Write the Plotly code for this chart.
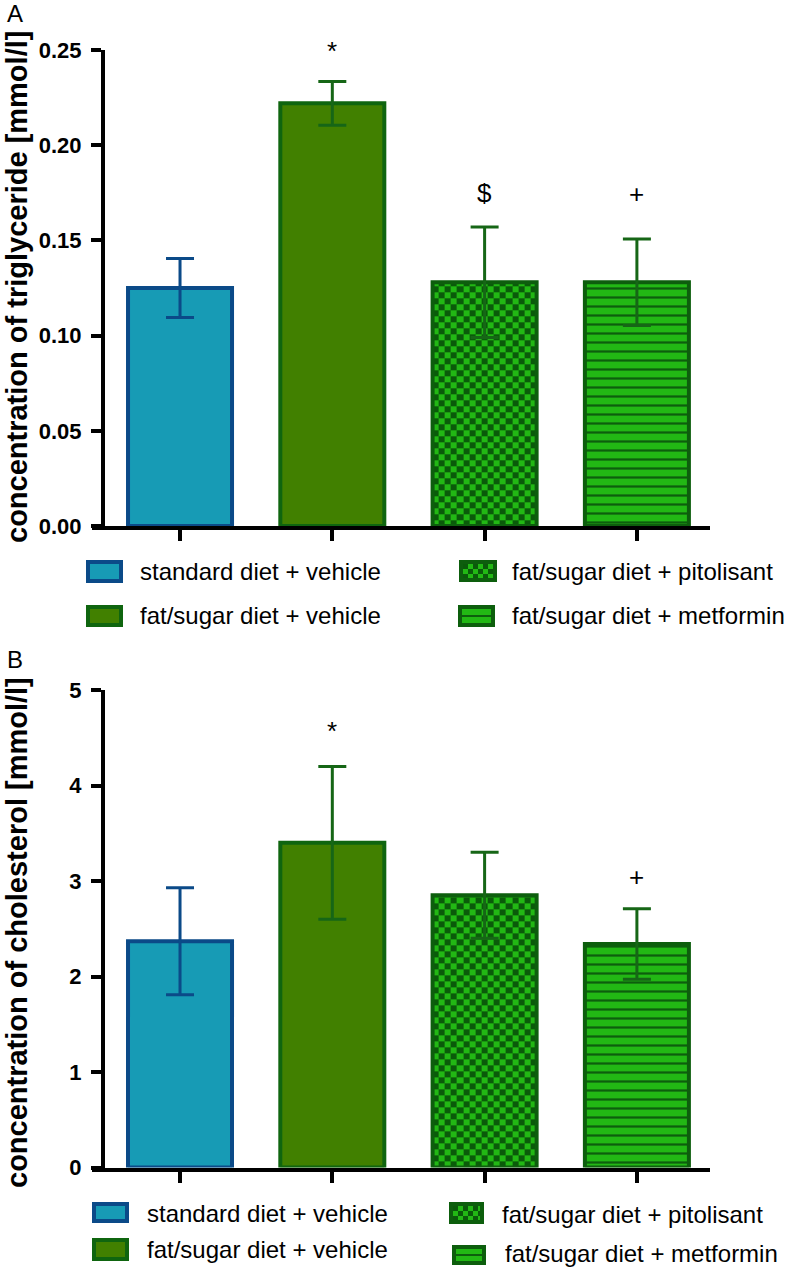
import plotly.graph_objects as go

# ---------------- data ----------------
groups = ["standard diet + vehicle", "fat/sugar diet + vehicle",
          "fat/sugar diet + pitolisant", "fat/sugar diet + metformin"]

tg_mean = [0.125, 0.222, 0.128, 0.128]
tg_err = [0.0155, 0.0115, 0.029, 0.0227]
tg_sig = ["", "*", "$", "+"]

chol_mean = [2.37, 3.40, 2.85, 2.34]
chol_err = [0.56, 0.80, 0.45, 0.37]
chol_sig = ["", "*", "", "+"]

tg_tickvals = [0, 0.05, 0.10, 0.15, 0.20, 0.25]
tg_ticktext = ["0.00", "0.05", "0.10", "0.15", "0.20", "0.25"]
chol_tickvals = [0, 1, 2, 3, 4, 5]
chol_ticktext = ["0", "1", "2", "3", "4", "5"]

# ---------------- style ----------------
W, H = 788, 1270
FONT = "Liberation Sans, Arial, Helvetica, sans-serif"
BLUE, BLUE_D = "#179bb5", "#0b4a88"
OLIVE, GREEN_D = "#418000", "#0f650f"
BRIGHT, DARK = "#22b814", "#0a5a0a"
STRIPE_D = "#0d5e0d"
ERRG = "#166616"

fills = [BLUE, OLIVE, "rgba(0,0,0,0)", BRIGHT]
swatch_fills = [BLUE, OLIVE, BRIGHT, BRIGHT]
borders = [BLUE_D, GREEN_D, STRIPE_D, STRIPE_D]
errcols = [BLUE_D, ERRG, ERRG, ERRG]
patterns = [
    None,
    None,
    None,  # checkerboard drawn as a heatmap texture below the bar
    dict(shape="-", size=9, solidity=0.25, fgcolor=STRIPE_D, bgcolor=BRIGHT, fillmode="replace"),
]
CHECKER_BAR = 2
BAR_W = 0.683
X_RANGE = [-0.578, 3.48]
CELL_PX = 6.0


def px(x):
    return x / W


def py(y):
    return 1 - y / H


X_DOM = [px(92), px(710)]
panels = [
    dict(xa="x", ya="y", mean=tg_mean, err=tg_err, sig=tg_sig,
         sig_shift=[0, 30, 34, 45], ydom=[py(526), py(50)], yrange=[0, 0.25]),
    dict(xa="x2", ya="y2", mean=chol_mean, err=chol_err, sig=chol_sig,
         sig_shift=[0, 35, 0, 32], ydom=[py(1167.5), py(690)], yrange=[0, 5]),
]

fig = go.Figure()
annotations = []
xpx_per_unit = (X_DOM[1] - X_DOM[0]) * W / (X_RANGE[1] - X_RANGE[0])

for p in panels:
    ypx_per_unit = (p["ydom"][1] - p["ydom"][0]) * H / (p["yrange"][1] - p["yrange"][0])
    # checkerboard texture for the pitolisant bar
    i = CHECKER_BAR
    nx = max(1, round(BAR_W * xpx_per_unit / CELL_PX))
    xe = [i - BAR_W / 2 + BAR_W * k / nx for k in range(nx + 1)]
    dy = CELL_PX / ypx_per_unit
    ye = []
    v = 0.0
    while v < p["mean"][i] - 1e-9:
        ye.append(v)
        v += dy
    ye.append(p["mean"][i])
    z = [[(r + c) % 2 for c in range(nx)] for r in range(len(ye) - 1)]
    fig.add_trace(go.Heatmap(x=xe, y=ye, z=z, zmin=0, zmax=1,
                             colorscale=[[0, BRIGHT], [1, DARK]], showscale=False,
                             hoverinfo="skip", xaxis=p["xa"], yaxis=p["ya"]))

    for i, g in enumerate(groups):
        marker = dict(color=fills[i], line=dict(color=borders[i], width=4))
        if patterns[i] is not None:
            marker["pattern"] = patterns[i]
        fig.add_trace(go.Bar(
            x=[i], y=[p["mean"][i]], width=BAR_W, marker=marker,
            error_y=dict(type="data", array=[p["err"][i]], color=errcols[i],
                         thickness=3, width=14),
            xaxis=p["xa"], yaxis=p["ya"], showlegend=False, name=g,
        ))
        if p["sig"][i]:
            annotations.append(dict(
                x=i, y=p["mean"][i] + p["err"][i], xref=p["xa"], yref=p["ya"],
                text=p["sig"][i], showarrow=False, yshift=p["sig_shift"][i],
                font=dict(family=FONT, size=26, color="black"),
            ))

axis_common = dict(showline=True, linewidth=4, linecolor="black", ticks="outside",
                   tickwidth=4, tickcolor="black", showgrid=False, zeroline=False,
                   automargin=False)
xaxis_common = dict(domain=X_DOM, type="linear", range=X_RANGE,
                    tickvals=list(range(len(groups))), showticklabels=False,
                    ticklen=11, **axis_common)
ytickfont = dict(family=FONT, size=22, color="black", weight="bold")

fig.update_layout(
    template="none",
    width=W, height=H, autosize=False,
    margin=dict(l=0, r=0, t=0, b=0, pad=0, autoexpand=False),
    paper_bgcolor="white", plot_bgcolor="white", barmode="overlay",
    xaxis=dict(anchor="y", **xaxis_common),
    yaxis=dict(domain=panels[0]["ydom"], anchor="free", position=px(103),
               range=panels[0]["yrange"], tickvals=tg_tickvals, ticktext=tg_ticktext,
               ticklen=10, ticklabelstandoff=5, tickfont=ytickfont, **axis_common),
    xaxis2=dict(anchor="y2", **xaxis_common),
    yaxis2=dict(domain=panels[1]["ydom"], anchor="free", position=px(103),
                range=panels[1]["yrange"], tickvals=chol_tickvals, ticktext=chol_ticktext,
                ticklen=10, ticklabelstandoff=5, tickfont=ytickfont, **axis_common),
)

# axis titles and panel letters
titles = [("concentration of triglyceride [mmol/l]", 287),
          ("concentration of cholesterol [mmol/l]", 933)]
for t, yc in titles:
    annotations.append(dict(x=px(17), y=py(yc), xref="paper", yref="paper", text=t,
                            textangle=-90, showarrow=False, xanchor="center", yanchor="middle",
                            font=dict(family=FONT, size=29, color="black", weight="bold")))
for letter, yc in [("A", 13), ("B", 659)]:
    annotations.append(dict(x=px(15), y=py(yc), xref="paper", yref="paper", text=letter,
                            showarrow=False, xanchor="center", yanchor="middle",
                            font=dict(family=FONT, size=24, color="black")))

# legends (layout positions in pixels)
legend_layout = [
    [((86, 560, 123, 583), (138, 571)), ((86, 605, 123, 627), (138, 616)),
     ((459, 560, 497, 582), (510, 571)), ((458, 605, 495, 627), (510, 616))],
    [((92, 1202, 129, 1223), (145, 1213)), ((92, 1238, 129, 1261), (145, 1249)),
     ((449, 1202, 484, 1224), (500, 1214)), ((452, 1245, 486, 1265), (503, 1253))],
]
legend_index = [0, 1, 2, 3]

shapes = []


def rect(x0, y0, x1, y1, color):
    shapes.append(dict(type="rect", xref="paper", yref="paper",
                       x0=px(x0), x1=px(x1), y0=py(y1), y1=py(y0),
                       fillcolor=color, line=dict(width=0), layer="above"))


for entries in legend_layout:
    for gi, ((x0, y0, x1, y1), (tx, ty)) in zip(legend_index, entries):
        rect(x0, y0, x1, y1, borders[gi])
        ix0, iy0, ix1, iy1 = x0 + 4, y0 + 4, x1 - 4, y1 - 4
        if gi in (0, 1):
            rect(ix0, iy0, ix1, iy1, swatch_fills[gi])
        elif gi == 2:
            rect(ix0, iy0, ix1, iy1, BRIGHT)
            s = 5
            r = 0
            yy = iy0
            while yy < iy1 - 0.5:
                c = 0
                xx = ix0
                while xx < ix1 - 0.5:
                    if (r + c) % 2 == 0:
                        rect(xx, yy, min(xx + s, ix1), min(yy + s, iy1), DARK)
                    xx += s
                    c += 1
                yy += s
                r += 1
        else:
            rect(ix0, iy0, ix1, iy1, STRIPE_D)
            hh = (iy1 - iy0 - 2) / 2
            rect(ix0, iy0, ix1, iy0 + hh, BRIGHT)
            rect(ix0, iy1 - hh, ix1, iy1, BRIGHT)
        annotations.append(dict(x=px(tx), y=py(ty), xref="paper", yref="paper",
                                text=groups[gi], showarrow=False, xanchor="left",
                                yanchor="middle",
                                font=dict(family=FONT, size=24, color="black")))

fig.update_layout(annotations=annotations, shapes=shapes)
fig.write_html(
    "out.html",
    config={"displayModeBar": False},
    post_script="document.body.style.margin='0';document.body.style.overflow='hidden';",
)
